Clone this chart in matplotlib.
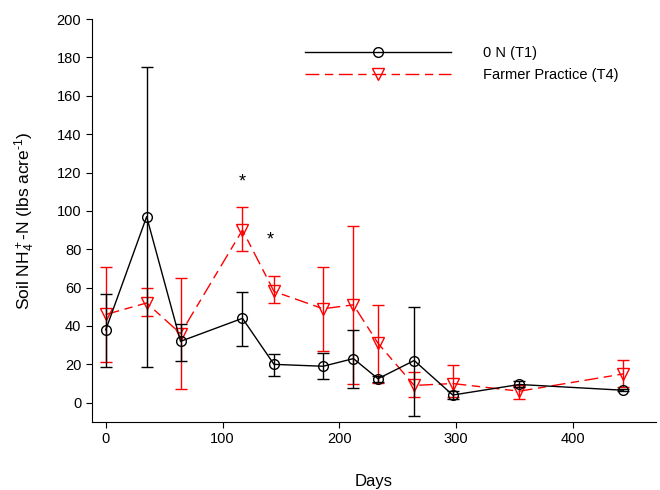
import matplotlib
matplotlib.use("Agg")
import matplotlib.pyplot as plt

plt.rcParams["font.family"] = ["Liberation Sans", "DejaVu Sans"]
plt.rcParams["mathtext.fontset"] = "custom"
plt.rcParams["mathtext.rm"] = "Liberation Sans"
plt.rcParams["mathtext.it"] = "Liberation Sans:italic"
plt.rcParams["mathtext.default"] = "rm"

# 0 N (T1)
days_t1 = [0, 35, 64, 117, 144, 186, 212, 233, 264, 297, 354, 443]
mean_t1 = [38, 97, 32, 44, 20, 19, 23, 12.5, 22, 4, 9.5, 6.5]
low_t1 = [18.5, 18.5, 22, 29.5, 14, 12.5, 7.5, 11, -7, 2, 8, 6]
high_t1 = [56.5, 175, 41, 57.5, 25.5, 26, 38, 14, 50, 6, 11.5, 7]

# Farmer Practice (T4)
days_t4 = [0, 35, 64, 117, 144, 186, 212, 233, 264, 297, 354, 443]
mean_t4 = [46, 52, 36, 90, 58, 49, 51, 31, 9, 10, 6, 15]
low_t4 = [21, 45, 7, 79, 52, 27, 10, 10.5, 3, 3, 2, 8]
high_t4 = [71, 60, 65, 102, 66, 71, 92, 51, 16, 19.5, 9, 22.5]

star_x = [117, 141]
star_y = [115, 85]


def err(mean, low, high):
    return [[m - l for m, l in zip(mean, low)], [h - m for m, h in zip(mean, high)]]


fig = plt.figure(figsize=(6.6, 4.9), dpi=100)
ax = fig.add_axes([0.139, 0.139, 0.855, 0.822])

ax.errorbar(days_t1, mean_t1, yerr=err(mean_t1, low_t1, high_t1), fmt="none",
            ecolor="black", capsize=4.5, elinewidth=1, capthick=1, zorder=3)
ax.plot(days_t1, mean_t1, color="black", lw=1, marker="o", ms=7, mfc="none",
        mec="black", label="0 N (T1)", zorder=3)
ax.errorbar(days_t4, mean_t4, yerr=err(mean_t4, low_t4, high_t4), fmt="none",
            ecolor="red", capsize=4.5, elinewidth=1, capthick=1, zorder=2)
ax.plot(days_t4, mean_t4, color="red", lw=1, dashes=(10, 4, 6, 4), marker="v",
        ms=8, mfc="none", mec="red", label="Farmer Practice (T4)", zorder=2)

for x, y in zip(star_x, star_y):
    ax.text(x, y, "*", ha="center", va="center", fontsize=13)

ax.set_xlim(-12, 471)
ax.set_ylim(-10, 200)
ax.set_xticks([0, 100, 200, 300, 400])
ax.set_yticks(range(0, 201, 20))
ax.tick_params(direction="out", labelsize=10.5, length=4)
ax.spines["top"].set_visible(False)
ax.spines["right"].set_visible(False)

ax.set_xlabel("Days", fontsize=12, labelpad=20)
ax.set_ylabel(r"Soil NH$_4^+$-N (lbs acre$^{\text{-}1}$)", fontsize=12.5, labelpad=14)

ax.legend(loc="upper left", bbox_to_anchor=(0.355, 0.965), frameon=False,
          handlelength=10, fontsize=10.5, handletextpad=2.2, labelspacing=0.55)

fig.savefig("out.png", dpi=100)
